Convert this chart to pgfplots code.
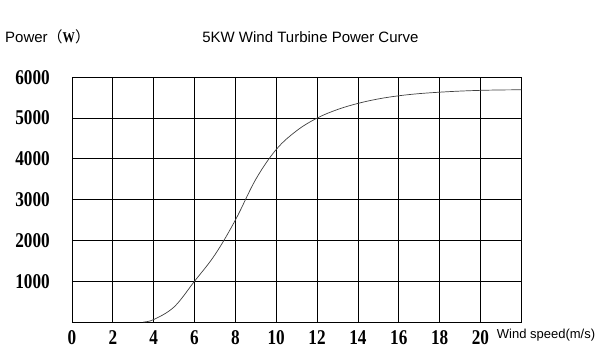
\documentclass[border=0pt]{standalone}
\usepackage{fontspec}
\usepackage{pgfplots}
\pgfplotsset{compat=1.18}
\setmainfont{Liberation Sans}
\newfontfamily\tickfont[FakeStretch=0.82]{Liberation Serif}
\newfontfamily\cjk{Noto Sans CJK SC}
\begin{document}
\begin{tikzpicture}[x=1pt,y=1pt]
\path[use as bounding box] (0,0) rectangle (600,360);
\begin{axis}[
  at={(72pt,38pt)}, anchor=south west,
  scale only axis, width=449.3pt, height=244.7pt,
  xmin=0, xmax=22, ymin=0, ymax=6000,
  xtick={0,2,...,22}, ytick={0,1000,...,6000},
  xticklabels={0,2,4,6,8,10,12,14,16,18,20,{}},
  yticklabels={{},1000,2000,3000,4000,5000,6000},
  scaled y ticks=false,
  major tick length=0pt,
  grid=major,
  grid style={black, line width=0.8pt},
  axis line style={black, line width=0.9pt},
  xticklabel style={font=\tickfont\bfseries\fontsize{21}{21}\selectfont, anchor=center, inner sep=0pt, yshift=-15.7pt},
  yticklabel style={font=\tickfont\bfseries\fontsize{21}{21}\selectfont, anchor=east, inner sep=0pt, xshift=-22pt},
  clip=false,
]
\addplot[smooth, tension=0.6, color=black!75, line width=0.7pt] coordinates {
 (3.5,0) (4,60) (5,370) (6,1000) (7,1650) (8,2500) (9,3500) (10,4230)
 (11,4690) (12,5000) (13,5210) (14,5360) (15,5470) (16,5547) (17,5600)
 (18,5635) (19,5662) (20,5680) (21,5690) (22,5694)
};
\end{axis}
\node[anchor=center, font=\fontsize{15}{15}\selectfont] at (310.4,323) {5KW Wind Turbine Power Curve};
\node[anchor=west, inner sep=0pt, font=\fontsize{15}{15}\selectfont] at (5,323.5) {Power{\cjk （}{\tickfont\bfseries W}{\cjk ）}};
\node[anchor=west, inner sep=0pt, font=\fontsize{13}{13}\selectfont] at (496.7,25) {Wind speed(m/s)};
\end{tikzpicture}
\end{document}
